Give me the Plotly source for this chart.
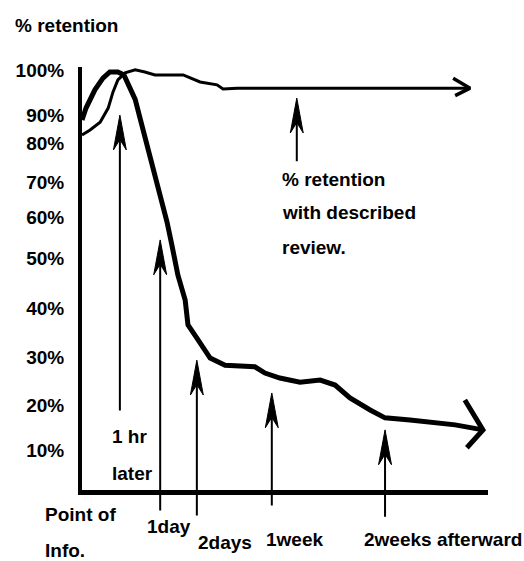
import plotly.graph_objects as go

# ---------------- data ----------------
# forgetting curve (no review): time (0-100 scale) vs % retention
forget_x = [0, 1.0, 3.2, 5.2, 6.9, 8.9, 10.4, 11.9, 13.2, 14.4, 16.1, 18.1, 19.9, 21.1,
            22.3, 23.8, 25.6, 26.3, 28.8, 31.8, 35.5, 42.9, 45.4, 49.1, 54.1, 59.1,
            62.8, 66.5, 71.5, 75.2, 81.4, 86.4, 92.6, 99.5]
forget_y = [89.2, 92.1, 96.5, 99.3, 100.8, 100.8, 100.1, 97.2, 94.2, 89.7, 83.2, 76.0,
            69.9, 64.6, 59.1, 51.8, 45.8, 39.8, 36.2, 31.8, 30.1, 29.7, 28.2, 27.0,
            26.0, 26.5, 25.3, 22.2, 19.3, 17.4, 16.9, 16.4, 15.7, 14.5]

# retention with described review
review_x = [0, 2.0, 4.5, 6.5, 7.7, 8.9, 10.7, 13.2, 15.6, 18.1, 25.1, 29.3, 33.5, 35.0,
            38.5, 96.3]
review_y = [85.6, 86.8, 88.7, 92.1, 96.0, 98.9, 100.6, 101.3, 100.8, 100.1, 100.1, 98.4,
            97.7, 96.7, 96.9, 96.9]

# pointer arrows: time position, tip level, base level
arrow_names = ["1 hr later", "1day", "2days", "1week", "2weeks afterward", "review"]
arrow_x = [9.4, 19.4, 28.5, 47.1, 75.2, 53.3]
arrow_tip = [90.4, 60.3, 31.3, 23.4, 14.5, 94.5]
arrow_base = [18.8, -5.3, -6.5, -4.1, -6.8, 78.9]

# y tick labels (hand-drawn spacing)
ytick_text = ["100%", "90%", "80%", "70%", "60%", "50%", "40%", "30%", "20%", "10%"]
ytick_vals = [101.3, 90.4, 83.7, 74.3, 65.8, 55.9, 43.9, 32.1, 20.5, 9.6]

# ---------------- style ----------------
FONT = "Liberation Sans, Arial, sans-serif"
FS = 19
HEAD_LEN = 8.4      # arrow head length (y units)
HEAD_HW = 1.6       # arrow head half width (x units)

fig = go.Figure()

fig.add_trace(go.Scatter(x=review_x, y=review_y, mode="lines",
                         line=dict(color="black", width=3), hoverinfo="skip"))
fig.add_trace(go.Scatter(x=forget_x, y=forget_y, mode="lines",
                         line=dict(color="black", width=5), hoverinfo="skip"))

# open V arrowheads at the curve ends (offsets are style)
for xs, ys, w, (dxa, dya, dxb, dyb) in [
        (forget_x, forget_y, 5, (-4.5, 7.2, -4.0, -4.3)),
        (review_x, review_y, 3.5, (-4.2, 2.4, -3.7, -1.8))]:
    xt, yt = xs[-1], ys[-1]
    fig.add_trace(go.Scatter(x=[xt + dxa, xt, xt + dxb], y=[yt + dya, yt, yt + dyb],
                             mode="lines", line=dict(color="black", width=w),
                             hoverinfo="skip"))

# arrow heads built from tip data
hx, hy = [], []
for xv, tv in zip(arrow_x, arrow_tip):
    hx += [xv, xv + HEAD_HW, xv, xv - HEAD_HW, xv, None]
    hy += [tv, tv - HEAD_LEN, tv - 0.7 * HEAD_LEN, tv - HEAD_LEN, tv, None]
fig.add_trace(go.Scatter(x=hx, y=hy, mode="lines", fill="toself", fillcolor="black",
                         line=dict(color="black", width=1), hoverinfo="skip"))

annotations = []
# arrow shafts
for xv, tv, bv in zip(arrow_x, arrow_tip, arrow_base):
    annotations.append(dict(x=xv, y=tv - 0.5 * HEAD_LEN, ax=xv, ay=bv, xref="x", yref="y",
                            axref="x", ayref="y", text="", showarrow=True, arrowhead=0,
                            arrowwidth=2, arrowcolor="black", standoff=0, startstandoff=0))

def label(text, x, y, ref="x"):
    annotations.append(dict(text="<b>" + text + "</b>", x=x, y=y,
                            xref="x" if ref == "x" else "paper",
                            yref="y" if ref == "x" else "paper",
                            xanchor="left", yanchor="middle", showarrow=False,
                            font=dict(family=FONT, size=FS, color="black")))

label("% retention", -0.169, 1.099, "paper")
label("1 hr", 6.9, 12.8)
label("later", 6.9, 4.1)
label("Point of", -0.097, -0.059, "paper")
label("Info.", -0.097, -0.142, "paper")
label("1day", 0.156, -0.087, "paper")
label("2days", 0.280, -0.123, "paper")
label("1week", 0.449, -0.118, "paper")
label("2weeks afterward", 0.690, -0.118, "paper")
label("% retention", 49.1, 74.8)
label("with described", 49.1, 66.8)
label("review.", 49.1, 58.4)

fig.update_layout(
    width=524, height=561,
    margin=dict(l=82, r=36, t=67, b=71),
    paper_bgcolor="white", plot_bgcolor="white",
    showlegend=False,
    annotations=annotations,
    font=dict(family=FONT, size=FS, color="black"),
    xaxis=dict(range=[0, 100.75], showgrid=False, zeroline=False, showticklabels=False,
               ticks="", showline=True, linecolor="black", linewidth=5, fixedrange=True),
    yaxis=dict(range=[0, 102], showgrid=False, zeroline=False, tickvals=ytick_vals,
               ticktext=["<b>" + t + "</b>" for t in ytick_text], ticks="", showline=True,
               linecolor="black", linewidth=4, ticklabelstandoff=10, fixedrange=True,
               tickfont=dict(family=FONT, size=FS, color="black")),
)

fig.write_html("out.html", config={"displayModeBar": False},
               post_script="document.body.style.margin='0';")
